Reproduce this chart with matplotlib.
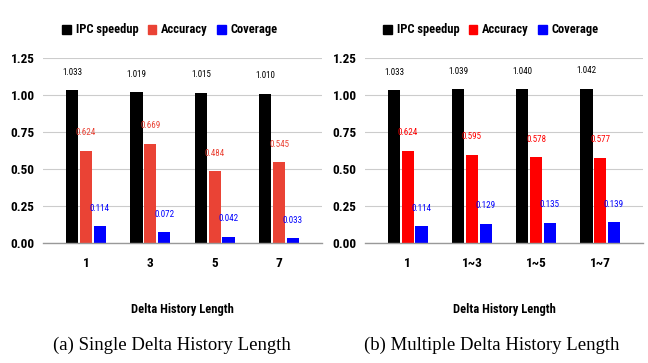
import matplotlib
matplotlib.use("Agg")
import matplotlib.pyplot as plt
import numpy as np
from matplotlib.patches import Patch

# ---- data ----
left_categories = ["1", "3", "5", "7"]
left_ipc = [1.033, 1.019, 1.015, 1.010]
left_acc = [0.624, 0.669, 0.484, 0.545]
left_cov = [0.114, 0.072, 0.042, 0.033]

right_categories = ["1", "1~3", "1~5", "1~7"]
right_ipc = [1.033, 1.039, 1.040, 1.042]
right_acc = [0.624, 0.595, 0.578, 0.577]
right_cov = [0.114, 0.129, 0.135, 0.139]

series_names = ["IPC speedup", "Accuracy", "Coverage"]
y_ticks = [0.00, 0.25, 0.50, 0.75, 1.00, 1.25]
xlabel_text = "Delta History Length"
captions = ["(a) Single Delta History Length", "(b) Multiple Delta History Length"]

FONT = ["Roboto Condensed", "DejaVu Sans Condensed", "DejaVu Sans"]
STRETCH = "condensed"
SERIF = ["Liberation Serif", "DejaVu Serif"]

fig = plt.figure(figsize=(6.48, 3.63), dpi=100)

def panel(rect, cats, ipc, acc, cov, colors, label_colors, legend_x, caption, caption_x):
    ax = fig.add_axes(rect)
    x = np.arange(len(cats))
    w = 0.19
    off = 0.215
    series = [ipc, acc, cov]
    for i, (vals, c, lc) in enumerate(zip(series, colors, label_colors)):
        pos = x + (i - 1) * off
        ax.bar(pos, vals, width=w, color=c, zorder=3)
        for px, v in zip(pos, vals):
            ax.annotate(f"{v:.3f}", (px, v), xytext=(0, 13), textcoords="offset points",
                        ha="center", va="center", fontsize=6.5, color=lc,
                        family=FONT, fontstretch=STRETCH, zorder=4)
    ax.set_xlim(-0.667, len(cats) - 1 + 0.667)
    ax.set_ylim(0, 1.25)
    ax.set_yticks(y_ticks)
    ax.set_yticklabels([f"{t:.2f}" for t in y_ticks], family=FONT, fontstretch=STRETCH,
                       fontweight="bold", fontsize=9.5)
    ax.set_xticks(x)
    ax.set_xticklabels(cats, family=FONT, fontstretch=STRETCH, fontweight="bold", fontsize=9.5)
    ax.tick_params(axis="both", length=0)
    ax.tick_params(axis="y", pad=6)
    ax.tick_params(axis="x", pad=10)
    ax.grid(axis="y", color="#cccccc", linewidth=0.8, zorder=0)
    for s in ["left", "right", "top"]:
        ax.spines[s].set_visible(False)
    ax.spines["bottom"].set_color("#999999")
    ax.spines["bottom"].set_linewidth(1.0)
    ax.spines["bottom"].set_zorder(5)
    ax.set_xlabel(xlabel_text, family=FONT, fontstretch=STRETCH, fontweight="bold",
                  fontsize=9, labelpad=24)
    handles = [Patch(color=c) for c in colors]
    fig.legend(handles, series_names, loc="center", bbox_to_anchor=(legend_x, 1 - 30 / 363),
               ncol=3, frameon=False,
               prop=dict(family=FONT, stretch=STRETCH, weight="bold", size=9),
               handlelength=0.7, handleheight=0.7, handletextpad=0.4, columnspacing=0.7)
    fig.text(caption_x, 1 - 345 / 363, caption, ha="center", va="center",
             family=SERIF, fontsize=13.5)
    return ax

panel([43 / 648, 1 - 243 / 363, (322 - 43) / 648, (243 - 58) / 363],
      left_categories, left_ipc, left_acc, left_cov,
      ["#000000", "#EA4335", "#0000FF"], ["#000000", "#EA4335", "#0000FF"],
      170 / 648, captions[0], 172 / 648)
panel([365 / 648, 1 - 243 / 363, (643 - 365) / 648, (243 - 58) / 363],
      right_categories, right_ipc, right_acc, right_cov,
      ["#000000", "#FF0000", "#0000FF"], ["#000000", "#FF0000", "#0000FF"],
      491 / 648, captions[1], 492 / 648)

fig.savefig("out.png", dpi=100)
